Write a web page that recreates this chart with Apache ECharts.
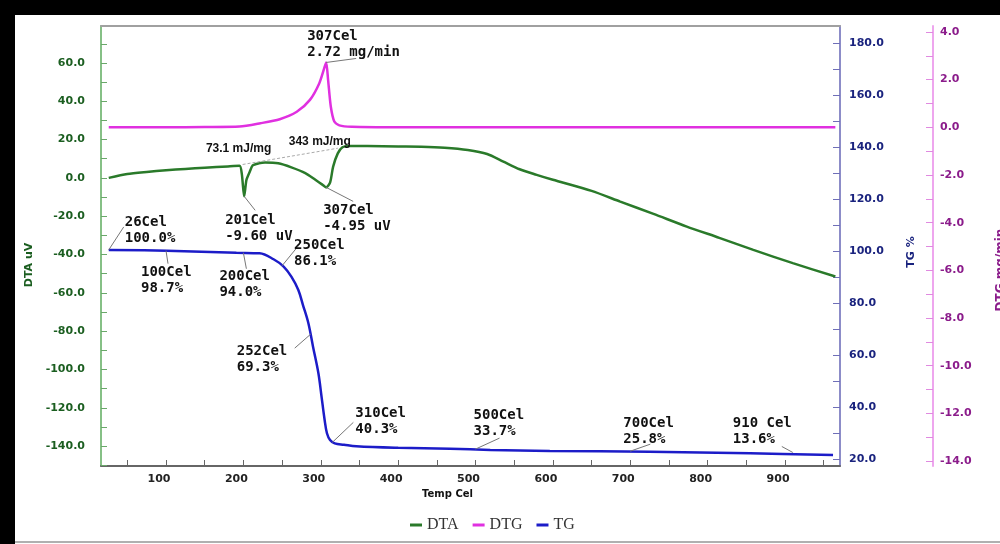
<!DOCTYPE html>
<html><head><meta charset="utf-8">
<script src="https://cdn.jsdelivr.net/npm/echarts@6/dist/echarts.min.js"></script>
<style>html,body{margin:0;padding:0;background:#fff}#c{width:1000px;height:544px}</style>
</head><body><div id="c"></div>
<script>
// ---- axis ticks / labels ----
const xTickValues = [50,100,150,200,250,300,350,400,450,500,550,600,650,700,750,800,850,900,950];
const xLabelValues = [100,200,300,400,500,600,700,800,900];
const dtaTickValues = [-150,-140,-130,-120,-110,-100,-90,-80,-70,-60,-50,-40,-30,-20,-10,0,10,20,30,40,50,60,70];
const dtaLabelValues = [-140,-120,-100,-80,-60,-40,-20,0,20,40,60];
const tgTickValues = [20,30,40,50,60,70,80,90,100,110,120,130,140,150,160,170,180];
const tgLabelValues = [20,40,60,80,100,120,140,160,180];
const dtgTickValues = [-14,-13,-12,-11,-10,-9,-8,-7,-6,-5,-4,-3,-2,-1,0,1,2,3,4];
const dtgLabelValues = [-14,-12,-10,-8,-6,-4,-2,0,2,4];

// ---- series data ----
const seriesNames = ['DTA','DTG','TG'];
const dtaTemp  = [26,50,75,100,125,150,180,195,198,201,204,208,212,220,228,245,262,280,293,302,307,312,316,322,328,336,360,400,430,460,490,515,536,557,579,600,650,687,730,773,815,859,910,965];
const dtaValue = [0.0,2.0,3.1,4.0,4.7,5.3,6.0,6.3,2.0,-9.6,-1.0,3.0,6.5,7.6,8.0,7.6,5.5,2.5,-1.0,-3.5,-4.95,-2.5,5.9,12.8,16.0,16.7,16.6,16.4,16.3,15.8,14.6,12.5,8.5,4.5,1.6,-1.0,-6.8,-12.4,-18.8,-25.4,-31.3,-37.6,-44.5,-51.5];
const dtgTemp  = [26,100,150,195,222,247,269,286,298,304.5,307,309.5,313,317.5,324,340,400,500,600,700,800,900,965];
const dtgValue = [0,0,0.01,0.03,0.17,0.34,0.65,1.15,1.84,2.48,2.72,1.98,0.86,0.24,0.08,0.02,0,0,0,0,0,0,0];
const tgTemp   = [26,101,191,221,239,252,262,271,277,284,290,297,301,305,308,312,318,330,346,400,467,519,596,725,855,962];
const tgValue  = [100.4,100.1,99.3,99.1,96.8,94.0,90.1,85.0,79.2,72.2,63.2,52.9,44.0,35.0,29.9,27.3,26.0,25.5,24.9,24.3,23.9,23.5,23.1,22.8,22.2,21.5];

// ---- annotations (anchor points on curves) ----
const annAxis  = ['TG','TG','TG','TG','TG','TG','TG','TG','TG','DTA','DTA','DTG'];
const annTemp  = [26,100,200,250,287,315,500,700,910,201,307,307];
const annValue = [100.4,100.1,99.3,94.3,68.0,26.4,23.8,23.0,22.5,-9.6,-4.95,2.72];
const annText  = ['26Cel\n100.0%','100Cel\n98.7%','200Cel\n94.0%','250Cel\n86.1%','252Cel\n69.3%','310Cel\n40.3%','500Cel\n33.7%','700Cel\n25.8%','910 Cel\n13.6%','201Cel\n-9.60 uV','307Cel\n-4.95 uV','307Cel\n2.72 mg/min'];
const dtaBaseline = [[199,7.0],[322,15.5]];
const energyText = ['73.1 mJ/mg','343 mJ/mg'];

// ---- layout (pixel offsets from anchors) ----
const annTextOff = [[16,-36],[-25,14],[-24,16],[12,-28],[-74,9],[23,-37],[-2,-42],[-7,-36],[-60,-37],[-19,16],[-3,15],[-19,-34]];
const annLeadOff = [[15,-23],[2,13],[3,16],[18,-22],[-16,14],[21,-20],[24,-11],[20,-7],[-11,-6],[11,14],[27,14],[30,-4]];
const energyOff = [[-4,-16],[-18,-7]];

const pairs = (a,b)=>a.map((t,i)=>[t,b[i]]);
const chart = echarts.init(document.getElementById('c'), null, {renderer:'canvas'});
const lblFont = 'DejaVu Sans';
const option = {
  animation:false,
  backgroundColor:'#fff',
  grid:{left:101,right:160,top:26,bottom:78,outerBoundsMode:'none',containLabel:false},
  legend:{data:seriesNames,left:405,top:512,icon:'rect',itemWidth:12,itemHeight:3,itemGap:14,
    textStyle:{fontFamily:'Liberation Serif',fontSize:16,color:'#333'}},
  xAxis:[{type:'value',min:16,max:971,
    axisLine:{onZero:false,lineStyle:{color:'#666',width:2}},
    axisTick:{inside:true,length:6,customValues:xTickValues,lineStyle:{color:'#666'}},
    axisLabel:{customValues:xLabelValues,color:'#222',fontWeight:'bold',fontSize:11,fontFamily:lblFont,margin:8,padding:[0,14,0,0]},
    splitLine:{show:false},
    name:'Temp Cel',nameLocation:'middle',nameGap:22,
    nameTextStyle:{fontWeight:'bold',fontSize:10,fontFamily:lblFont,color:'#111',padding:[0,46,0,0]}},
   {type:'value',position:'top',min:16,max:971,
    axisLine:{onZero:false,lineStyle:{color:'#a0a0a0',width:2}},axisTick:{show:false},axisLabel:{show:false},splitLine:{show:false}}],
  yAxis:[
   {type:'value',position:'left',min:-150.4,max:79.3,
    axisLine:{show:true,onZero:false,lineStyle:{color:'#86c086',width:2}},
    axisTick:{show:true,inside:true,length:6,customValues:dtaTickValues,lineStyle:{color:'#6aa86a'}},
    axisLabel:{customValues:dtaLabelValues,formatter:v=>v.toFixed(1),color:'#1b5e20',fontWeight:'bold',fontSize:11,fontFamily:lblFont,margin:16},
    splitLine:{show:false},
    name:'DTA uV',nameLocation:'middle',nameGap:63,nameRotate:90,
    nameTextStyle:{color:'#1b5e20',fontWeight:'bold',fontSize:11,fontFamily:lblFont,padding:[0,38,0,0]}},
   {type:'value',position:'right',offset:0,min:17.3,max:186.5,
    axisLine:{show:true,onZero:false,lineStyle:{color:'#8c8cc8',width:2}},
    axisTick:{show:true,inside:true,length:7,customValues:tgTickValues,lineStyle:{color:'#6f6fb8'}},
    axisLabel:{customValues:tgLabelValues,formatter:v=>v.toFixed(1),color:'#1a237e',fontWeight:'bold',fontSize:11,fontFamily:lblFont,margin:9},
    splitLine:{show:false},
    name:'TG %',nameLocation:'middle',nameGap:66,nameRotate:90,
    nameTextStyle:{color:'#1a237e',fontWeight:'bold',fontSize:11,fontFamily:lblFont,padding:[0,12,0,0]}},
   {type:'value',position:'right',offset:93,min:-14.21,max:4.25,
    axisLine:{show:true,onZero:false,lineStyle:{color:'#eea6ee',width:2}},
    axisTick:{show:true,inside:true,length:7,customValues:dtgTickValues,lineStyle:{color:'#e08ae0'}},
    axisLabel:{customValues:dtgLabelValues,formatter:v=>v.toFixed(1),color:'#8b1c8b',fontWeight:'bold',fontSize:11,fontFamily:lblFont,margin:7},
    splitLine:{show:false},
    name:'DTG mg/min',nameLocation:'middle',nameGap:62,nameRotate:90,
    nameTextStyle:{color:'#8b1c8b',fontWeight:'bold',fontSize:12,fontFamily:lblFont,padding:[0,48,0,0]}}
  ],
  series:[
   {name:'DTA',type:'line',xAxisIndex:0,yAxisIndex:0,data:pairs(dtaTemp,dtaValue),showSymbol:false,smooth:0.25,
    lineStyle:{color:'#2a7a2a',width:2.5},itemStyle:{color:'#2a7a2a'}},
   {name:'DTG',type:'line',xAxisIndex:0,yAxisIndex:2,data:pairs(dtgTemp,dtgValue),showSymbol:false,smooth:0.25,
    lineStyle:{color:'#e030e0',width:2.5},itemStyle:{color:'#e030e0'}},
   {name:'TG',type:'line',xAxisIndex:0,yAxisIndex:1,data:pairs(tgTemp,tgValue),showSymbol:false,smooth:0.35,
    lineStyle:{color:'#1c1cc8',width:2.5},itemStyle:{color:'#1c1cc8'}}
  ]
};
chart.setOption(option);

const axisIdx = {DTA:0, TG:1, DTG:2};
const g = [];
annTemp.forEach((t,i)=>{
  const p = chart.convertToPixel({xAxisIndex:0,yAxisIndex:axisIdx[annAxis[i]]},[t,annValue[i]]);
  const lo = annLeadOff[i], to = annTextOff[i];
  g.push({type:'line',shape:{x1:p[0],y1:p[1],x2:p[0]+lo[0],y2:p[1]+lo[1]},style:{stroke:'#777',lineWidth:1},z:50});
  g.push({type:'text',x:p[0]+to[0],y:p[1]+to[1],style:{text:annText[i],fill:'#111',font:'bold 14px "DejaVu Sans Mono"',lineHeight:16,verticalAlign:'top',align:'left'},z:60});
});
const b0 = chart.convertToPixel({xAxisIndex:0,yAxisIndex:0},dtaBaseline[0]);
const b1 = chart.convertToPixel({xAxisIndex:0,yAxisIndex:0},dtaBaseline[1]);
g.push({type:'line',shape:{x1:b0[0],y1:b0[1],x2:b1[0],y2:b1[1]},style:{stroke:'#aaa',lineWidth:1,lineDash:[3,2]},z:40});
[b0,b1].forEach((b,i)=>{
  g.push({type:'text',x:b[0]+energyOff[i][0],y:b[1]+energyOff[i][1],style:{text:energyText[i],fill:'#111',font:'bold 12px "Liberation Sans"',align:'center',verticalAlign:'middle'},z:60});
});
// frame
g.push({type:'rect',shape:{x:0,y:0,width:1000,height:15},style:{fill:'#000'},z:100});
g.push({type:'rect',shape:{x:0,y:0,width:15,height:544},style:{fill:'#000'},z:100});
g.push({type:'rect',shape:{x:15,y:541,width:985,height:2},style:{fill:'#b0b0b0'},z:100});
chart.setOption({graphic:g});
</script></body></html>
